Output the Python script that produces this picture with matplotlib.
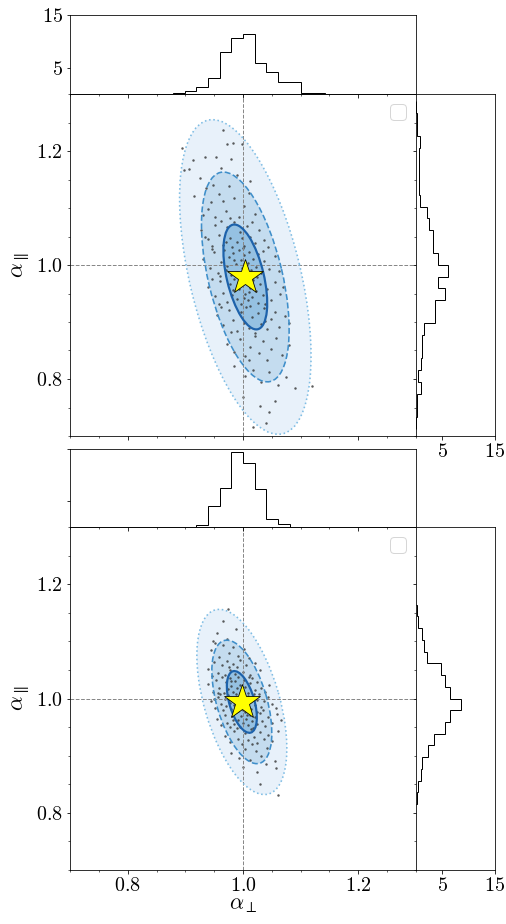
import numpy as np
import matplotlib
matplotlib.use("Agg")
import matplotlib.pyplot as plt
from matplotlib.patches import Ellipse
from matplotlib.ticker import MultipleLocator

plt.rcParams['font.family'] = 'serif'
plt.rcParams['font.serif'] = ['cmr10']
plt.rcParams['mathtext.fontset'] = 'cm'
plt.rcParams['axes.formatter.use_mathtext'] = True
plt.rcParams['axes.unicode_minus'] = False
plt.rcParams['font.size'] = 20

# ---- top panel data ----
top_pts = [
    (0.966, 1.237),
    (0.972, 1.213), (0.983, 1.214), (0.894, 1.205), (0.914, 1.184), (0.934, 1.190), (0.954, 1.190), (0.999, 1.212),
    (0.898, 1.167), (0.907, 1.168), (0.980, 1.186), (0.925, 1.152), (0.948, 1.141), (0.962, 1.170), (0.990, 1.158),
    (1.012, 1.147), (0.935, 1.135), (0.976, 1.138),
    (0.915, 1.121), (0.944, 1.110), (0.958, 1.125), (0.970, 1.095), (0.985, 1.118), (1.001, 1.103), (1.020, 1.090),
    (0.930, 1.088), (0.952, 1.084), (0.966, 1.113), (0.993, 1.085), (1.010, 1.127), (0.940, 1.099), (0.978, 1.082),
    (0.928, 1.062), (0.940, 1.045), (0.951, 1.071), (0.959, 1.052), (0.965, 1.035), (0.972, 1.066), (0.978, 1.048),
    (0.984, 1.075), (0.989, 1.040), (0.995, 1.058), (1.001, 1.033), (1.007, 1.069), (1.013, 1.049), (1.020, 1.038),
    (1.028, 1.061), (1.036, 1.044), (0.946, 1.034), (0.962, 1.078), (0.981, 1.031), (0.998, 1.047), (1.016, 1.075),
    (0.970, 1.041), (0.934, 1.050), (1.043, 1.032),
    (0.930, 1.010), (0.942, 0.995), (0.950, 1.022), (0.956, 0.986), (0.962, 1.005), (0.967, 1.027), (0.971, 0.991),
    (0.975, 1.014), (0.979, 0.983), (0.983, 1.021), (0.987, 1.002), (0.990, 0.988), (0.993, 1.026), (0.996, 1.009),
    (0.999, 0.994), (1.002, 1.017), (1.005, 0.984), (1.008, 1.004), (1.011, 1.023), (1.014, 0.991), (1.018, 1.011),
    (1.022, 0.997), (1.026, 1.019), (1.031, 0.986), (1.037, 1.007), (1.045, 0.993), (1.055, 1.015), (0.946, 1.028),
    (0.960, 0.981), (0.985, 1.008), (1.000, 1.029), (1.016, 0.982), (1.034, 1.025), (0.973, 0.998), (1.062, 0.990),
    (0.940, 0.962), (0.952, 0.945), (0.960, 0.972), (0.966, 0.951), (0.972, 0.935), (0.977, 0.967), (0.981, 0.948),
    (0.985, 0.976), (0.989, 0.940), (0.993, 0.958), (0.997, 0.931), (1.000, 0.969), (1.003, 0.949), (1.006, 0.978),
    (1.009, 0.938), (1.012, 0.960), (1.015, 0.944), (1.018, 0.973), (1.022, 0.955), (1.026, 0.934), (1.030, 0.966),
    (1.035, 0.947), (1.041, 0.958), (1.048, 0.939), (1.056, 0.970), (1.064, 0.950), (0.958, 0.932), (0.983, 0.957),
    (0.995, 0.977), (1.011, 0.953), (1.024, 0.979), (1.038, 0.931), (1.070, 0.962), (0.946, 0.975), (1.001, 0.942),
    (0.955, 0.912), (0.966, 0.895), (0.975, 0.921), (0.983, 0.904), (0.990, 0.885), (0.996, 0.917), (1.001, 0.898),
    (1.006, 0.926), (1.011, 0.889), (1.016, 0.908), (1.021, 0.881), (1.026, 0.915), (1.031, 0.896), (1.036, 0.924),
    (1.042, 0.887), (1.048, 0.906), (1.055, 0.918), (1.063, 0.892), (1.072, 0.910), (0.980, 0.883), (1.013, 0.928),
    (1.038, 0.901), (1.080, 0.899), (0.962, 0.927),
    (0.972, 0.862), (0.985, 0.848), (0.995, 0.871), (1.004, 0.840), (1.012, 0.857), (1.020, 0.876), (1.027, 0.845),
    (1.034, 0.866), (1.041, 0.834), (1.049, 0.853), (1.058, 0.872), (1.068, 0.842), (1.080, 0.860), (1.010, 0.833),
    (0.985, 0.822), (1.003, 0.806), (1.018, 0.816), (1.032, 0.795), (1.045, 0.812), (1.060, 0.789), (1.075, 0.803),
    (1.091, 0.785), (1.120, 0.787),
    (1.000, 0.768), (1.030, 0.752), (1.055, 0.762), (1.045, 0.742), (1.040, 0.723), (1.018, 0.716),
]
top_mean = (1.004, 0.979)
top_sig = (0.038, 0.092, -0.5)   # sigma_x, sigma_y, rho

top_xhist_start = 0.8586
top_xhist = [0.05, 0.25, 0.57, 1.34, 3.0, 8.0, 10.6, 11.3, 5.9, 4.2, 2.2, 2.2, 0.25, 0.13, 0.05]
top_yhist_start = 0.713
top_yhist = [0.05, 0.13, 0.26, 1.0, 0.45, 1.0, 1.1, 1.23, 1.43, 3.6, 3.6, 5.5, 4.15, 6.0,
             4.15, 3.2, 3.2, 2.5, 2.08, 0.75, 0.65, 0.65, 0.58, 0.5, 0.78, 0.2, 0.1, 0.05]

# ---- bottom panel data ----
bot_pts = [
    (0.974, 1.156), (0.965, 1.135),
    (0.955, 1.115), (0.972, 1.104), (0.988, 1.122), (0.948, 1.101),
    (0.945, 1.085), (0.958, 1.072), (0.966, 1.094), (0.975, 1.079), (0.983, 1.090), (0.992, 1.074), (1.002, 1.086),
    (0.952, 1.097), (1.010, 1.070),
    (0.940, 1.052), (0.950, 1.063), (0.957, 1.044), (0.963, 1.058), (0.968, 1.041), (0.973, 1.066), (0.978, 1.049),
    (0.982, 1.060), (0.986, 1.043), (0.990, 1.055), (0.995, 1.067), (1.000, 1.046), (1.006, 1.058), (1.013, 1.041),
    (1.021, 1.062), (0.946, 1.040), (0.975, 1.055), (1.030, 1.050),
    (0.940, 1.025), (0.948, 1.012), (0.954, 1.033), (0.959, 1.019), (0.963, 1.037), (0.967, 1.010), (0.971, 1.028),
    (0.974, 1.016), (0.977, 1.035), (0.980, 1.021), (0.983, 1.011), (0.986, 1.030), (0.989, 1.018), (0.992, 1.038),
    (0.995, 1.024), (0.998, 1.013), (1.001, 1.032), (1.004, 1.020), (1.008, 1.010), (1.012, 1.027), (1.016, 1.036),
    (1.020, 1.015), (1.025, 1.029), (1.031, 1.019), (1.038, 1.012), (0.957, 1.010), (0.979, 1.031), (0.994, 1.009),
    (1.010, 1.038), (1.045, 1.024),
    (0.945, 0.995), (0.952, 0.984), (0.957, 1.003), (0.961, 0.990), (0.965, 0.980), (0.968, 0.999), (0.971, 0.987),
    (0.974, 1.006), (0.977, 0.993), (0.980, 0.982), (0.983, 1.001), (0.985, 0.989), (0.988, 1.008), (0.990, 0.996),
    (0.993, 0.983), (0.995, 1.003), (0.998, 0.991), (1.000, 0.980), (1.003, 0.999), (1.005, 0.986), (1.008, 1.005),
    (1.011, 0.994), (1.014, 0.981), (1.017, 1.001), (1.020, 0.988), (1.024, 0.997), (1.028, 1.007), (1.032, 0.985),
    (1.037, 0.995), (1.043, 1.002), (1.050, 0.990), (0.960, 1.008), (0.979, 0.997), (0.992, 0.979), (1.006, 0.995),
    (1.019, 1.008), (1.034, 0.980), (0.950, 0.999), (1.058, 0.984), (1.001, 1.006),
    (0.955, 0.965), (0.962, 0.953), (0.968, 0.972), (0.973, 0.958), (0.977, 0.950), (0.981, 0.969), (0.985, 0.956),
    (0.988, 0.976), (0.991, 0.962), (0.994, 0.951), (0.997, 0.970), (1.000, 0.958), (1.003, 0.977), (1.006, 0.964),
    (1.009, 0.953), (1.012, 0.972), (1.015, 0.960), (1.018, 0.949), (1.021, 0.967), (1.025, 0.955), (1.029, 0.974),
    (1.033, 0.961), (1.038, 0.952), (1.044, 0.968), (1.051, 0.957), (1.059, 0.973), (1.066, 0.962), (0.983, 0.963),
    (1.007, 0.971), (1.024, 0.977),
    (0.968, 0.935), (0.977, 0.924), (0.985, 0.943), (0.992, 0.930), (0.998, 0.921), (1.004, 0.939), (1.009, 0.927),
    (1.014, 0.946), (1.019, 0.933), (1.024, 0.922), (1.030, 0.941), (1.036, 0.929), (1.043, 0.937), (1.051, 0.925),
    (1.060, 0.944), (0.990, 0.948), (1.016, 0.920),
    (0.980, 0.905), (0.993, 0.896), (1.004, 0.912), (1.013, 0.893), (1.022, 0.908), (1.031, 0.899), (1.042, 0.914),
    (1.055, 0.891),
    (1.000, 0.880), (1.025, 0.872), (1.040, 0.885), (1.058, 0.879),
    (1.061, 0.832), (1.030, 0.850),
]
bot_mean = (0.998, 0.994)
bot_sig = (0.026, 0.054, -0.5)

bot_xhist_start = 0.9192
bot_xhist = [0.45, 3.95, 7.5, 14.4, 12.3, 7.3, 1.53, 0.64]
bot_yhist_start = 0.8155
bot_yhist = [0.13, 0.32, 0.9, 1.1, 2.27, 3.5, 5.45, 6.5, 8.6, 6.5, 5.45, 4.7, 2.08, 1.43, 1.1, 0.45, 0.2]

bin_wx = 0.0202
bin_wy = 0.0205

W, H = 506, 924
fig = plt.figure(figsize=(W / 72, H / 72), dpi=72)

left = 70 / W
mw = 346 / W
rx = 416 / W
rw = 79 / W


def ellipses(ax, mean, sig):
    sx, sy, rho = sig
    cov = np.array([[sx**2, rho * sx * sy], [rho * sx * sy, sy**2]])
    vals, vecs = np.linalg.eigh(cov)
    ang = np.degrees(np.arctan2(vecs[1, 1], vecs[0, 1]))
    for n, fc, ec, ls, lw in [(3, '#e8f1fa', '#7fbde4', ':', 1.6),
                              (2, '#c4dcef', '#3f8fca', '--', 1.6),
                              (1, '#95c1e2', '#1d62ab', '-', 2.2)]:
        w = 2 * n * np.sqrt(vals[1])
        h = 2 * n * np.sqrt(vals[0])
        ax.add_patch(Ellipse(mean, w, h, angle=ang, fc=fc, ec='none', zorder=1))
        ax.add_patch(Ellipse(mean, w, h, angle=ang, fc='none', ec=ec, ls=ls, lw=lw, zorder=3))


def panel(y_top, h_top, y_main, h_main, pts, mean, sig, xh0, xh, yh0, yh, top_labels, bottom_labels):
    ax = fig.add_axes([left, y_main, mw, h_main])
    axt = fig.add_axes([left, y_top, mw, h_top], sharex=ax)
    axr = fig.add_axes([rx, y_main, rw, h_main], sharey=ax)

    ellipses(ax, mean, sig)
    px = [p[0] for p in pts]
    py = [p[1] for p in pts]
    ax.scatter(px, py, s=6, color='#333333', alpha=0.8, lw=0, zorder=2)
    ax.axvline(1.0, color='#888888', ls='--', lw=1, zorder=2.5)
    ax.axhline(1.0, color='#888888', ls='--', lw=1, zorder=2.5)
    ax.plot(mean[0], mean[1], marker='*', ms=37, mfc='#ffff00', mec='black', mew=0.8, zorder=5)
    ax.legend(handles=[], loc='upper right')

    ax.set_xlim(0.7, 1.3)
    ax.set_ylim(0.7, 1.3)
    for a in (ax.xaxis, ax.yaxis):
        a.set_major_locator(MultipleLocator(0.2))
        a.set_minor_locator(MultipleLocator(0.05))
    ax.set_ylabel(r'$\alpha_\parallel$', fontsize=23)
    if bottom_labels:
        ax.set_xlabel(r'$\alpha_\perp$', fontsize=22, labelpad=0)
    else:
        ax.tick_params(labelbottom=False)

    xe = xh0 + bin_wx * np.arange(len(xh) + 1)
    axt.stairs(xh, xe, color='black', lw=1)
    axt.set_ylim(0, 15)
    axt.set_yticks([5, 15])
    axt.tick_params(labelbottom=False, labelleft=top_labels)

    ye = yh0 + bin_wy * np.arange(len(yh) + 1)
    axr.stairs(yh, ye, orientation='horizontal', color='black', lw=1)
    axr.set_xlim(0, 15)
    axr.set_xticks([5, 15])
    axr.tick_params(labelleft=False)


panel(1 - 94 / H, 79 / H, 1 - 436 / H, 342 / H, top_pts, top_mean, top_sig,
      top_xhist_start, top_xhist, top_yhist_start, top_yhist, True, False)
panel(1 - 527 / H, 78 / H, 1 - 870 / H, 343 / H, bot_pts, bot_mean, bot_sig,
      bot_xhist_start, bot_xhist, bot_yhist_start, bot_yhist, False, True)

fig.savefig('out.png', dpi=72)
